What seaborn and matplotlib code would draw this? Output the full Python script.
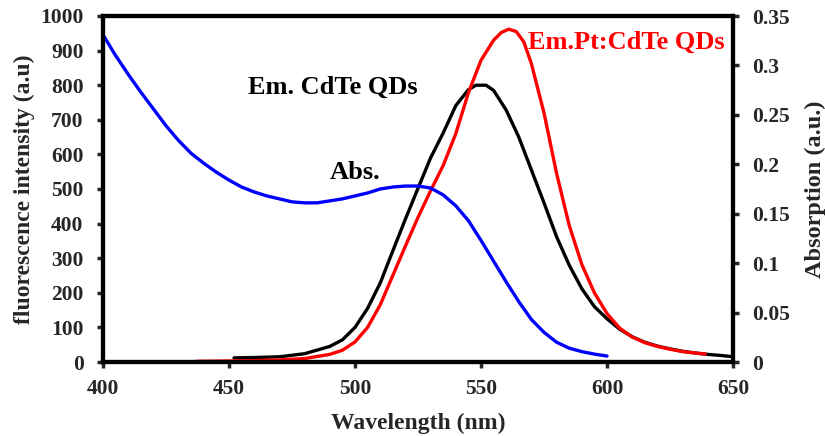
import matplotlib
matplotlib.use("Agg")
import matplotlib.pyplot as plt
import seaborn as sns
import pandas as pd

# Emission of CdTe QDs (black)
em_cdte_wl = [452, 460, 470, 480, 490, 495, 500, 505, 510, 515, 520, 525, 530, 535,
              540, 545, 548, 552, 555, 560, 565, 570, 575, 580, 585, 590, 595, 600,
              605, 610, 615, 620, 625, 630, 635, 640, 645, 649]
em_cdte_val = [12, 13, 15, 24, 45, 64, 100, 155, 228, 321, 413, 502, 590, 662,
               741, 787, 800, 800, 785, 728, 650, 555, 460, 362, 280, 212, 160, 125,
               95, 73, 57, 46, 38, 31, 26, 22, 19, 16]

# Emission of Pt:CdTe QDs (red)
em_pt_wl = [437, 450, 460, 470, 480, 490, 495, 500, 505, 510, 515, 520, 525, 530,
            535, 540, 545, 550, 555, 558, 561, 564, 567, 570, 575, 580, 585, 590,
            595, 600, 605, 610, 615, 620, 625, 630, 635, 639]
em_pt_val = [2, 3, 4, 6, 10, 22, 34, 58, 100, 165, 250, 335, 418, 495,
             568, 660, 778, 872, 930, 952, 962, 955, 925, 862, 720, 545, 395, 282,
             200, 140, 98, 72, 56, 45, 37, 30, 26, 23]

# Absorption (blue, right axis)
abs_wl = [400, 405, 410, 415, 420, 425, 430, 435, 440, 445, 450, 455, 460, 465, 470,
          475, 480, 485, 490, 495, 500, 505, 510, 515, 520, 525, 530, 535, 540, 545,
          550, 555, 560, 565, 570, 575, 580, 585, 590, 595, 600]
abs_val = [0.331, 0.310, 0.291, 0.273, 0.256, 0.239, 0.224, 0.211, 0.201, 0.192,
           0.184, 0.177, 0.172, 0.168, 0.165, 0.162, 0.161, 0.161, 0.163, 0.165,
           0.168, 0.171, 0.175, 0.177, 0.178, 0.178, 0.176, 0.169, 0.158, 0.143,
           0.123, 0.102, 0.081, 0.061, 0.043, 0.030, 0.020, 0.014, 0.0105, 0.008, 0.006]

sns.set_style("white")
plt.rcParams['font.family'] = ['Liberation Serif', 'DejaVu Serif']
plt.rcParams['font.weight'] = 'bold'

fig = plt.figure(figsize=(8.25, 4.36), dpi=100)
ax = fig.add_axes([103/825, 1-362/436, (733-103)/825, (362-16)/436])
ax2 = ax.twinx()

df_c = pd.DataFrame({"wl": em_cdte_wl, "v": em_cdte_val})
df_p = pd.DataFrame({"wl": em_pt_wl, "v": em_pt_val})
df_a = pd.DataFrame({"wl": abs_wl, "v": abs_val})

sns.lineplot(data=df_c, x="wl", y="v", ax=ax, color="black", lw=2.4)
sns.lineplot(data=df_p, x="wl", y="v", ax=ax, color="#ff0000", lw=2.4)
sns.lineplot(data=df_a, x="wl", y="v", ax=ax2, color="#0000ff", lw=2.4)

ax.set_xlim(400, 650)
ax.set_ylim(0, 1000)
ax2.set_ylim(0, 0.35)
ax.set_xticks(range(400, 651, 50))
ax.set_yticks(range(0, 1001, 100))
ax2.set_yticks([0, 0.05, 0.1, 0.15, 0.2, 0.25, 0.3, 0.35])
ax2.set_yticklabels(["0", "0.05", "0.1", "0.15", "0.2", "0.25", "0.3", "0.35"])

for a in (ax, ax2):
    for s in a.spines.values():
        s.set_linewidth(3)
        s.set_color("black")
ax.tick_params(axis="x", direction="out", length=4, width=2.5, labelsize=15.5, pad=8,
               bottom=True, top=False)
ax.tick_params(axis="y", direction="out", length=4, width=2.5, labelsize=15.5, pad=10,
               left=True, right=False)
ax2.tick_params(axis="y", direction="out", length=4, width=2.5, labelsize=15.5, pad=9.5, right=True)

ax.set_xlabel("Wavelength (nm)", fontsize=17, fontweight="bold", labelpad=10)
ax.set_ylabel("fluorescence intensity (a.u)", fontsize=17, fontweight="bold", labelpad=4)
ax2.set_ylabel("Absorption (a.u.)", fontsize=17.5, fontweight="bold", labelpad=11)

ax.text(491, 795, "Em. CdTe QDs", fontsize=19, fontweight="bold", color="black",
        ha="center", va="center")
ax.text(500, 549, "Abs.", fontsize=19, fontweight="bold", color="black",
        ha="center", va="center")
ax.text(607.5, 925, "Em.Pt:CdTe QDs", fontsize=19, fontweight="bold", color="#ff0000",
        ha="center", va="center")

fig.savefig("out.png", dpi=100)
